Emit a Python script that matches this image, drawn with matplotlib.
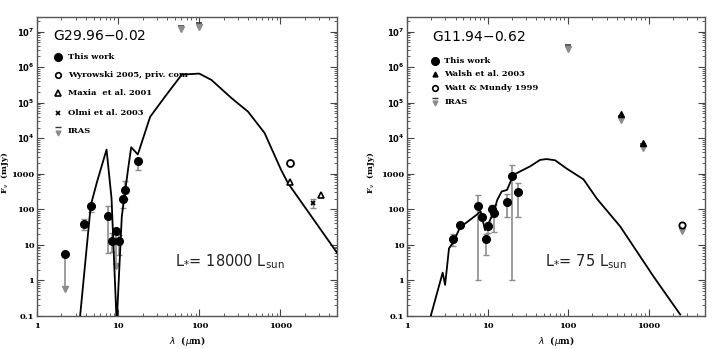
import numpy as np
import matplotlib
matplotlib.use("Agg")
import matplotlib.pyplot as plt
from matplotlib.ticker import FixedLocator, FuncFormatter, LogLocator, NullFormatter

#### data ############################################
# G29.96-0.02 model curve
mod1_lam = [3.4, 4.6, 5.5, 7.2, 8.3, 9.6, 11.1, 13.4, 14.5, 17.5, 24.8, 38, 61, 100,
            141, 250, 400, 640, 1020, 1240, 5000]
mod1_f = [0.1, 130, 600, 4800, 200, 0.06, 63, 1600, 5600, 3500, 4.0e4, 1.5e5, 6.2e5,
          6.6e5, 4.4e5, 1.35e5, 5.6e4, 1.4e4, 1300, 550, 6]

# G29.96-0.02 "this work"
tw1_lam = [2.2, 3.85, 4.6, 7.6, 8.5, 9.5, 10.3, 11.5, 12.0, 17.8]
tw1_f = [5.5, 38, 123, 66, 13, 25, 13, 200, 340, 2350]
tw1_lo = [0.45, 26, 85, 6, 6.5, 2, 5.2, 107, 200, 1300]
tw1_hi = [5.5, 55, 123, 127, 21, 30, 19, 200, 620, 2350]
tw1_uplim = [True, False, False, False, False, True, False, False, False, False]

wyro_lam = [1320]
wyro_f = [2000]
maxia_lam = [1300, 3170]
maxia_f = [570, 260]
olmi_lam = [2520]
olmi_f = [148]
olmi_lo = [107]
olmi_hi = [195]
iras1_lam = [60, 100]
iras1_f = [1.15e7, 1.35e7]

# G11.94-0.62 model curve
mod2_lam = [1.97, 2.77, 2.97, 3.32, 3.76, 4.55, 7.3, 8.2, 9.3, 10.3, 11.8, 13.2, 15,
            17.4, 21, 33.7, 44.8, 54, 69, 96, 155, 227, 443, 1150, 2460]
mod2_f = [0.1, 1.66, 0.75, 8, 12, 31, 70, 88, 26, 41, 78, 186, 320, 350, 940, 1620,
          2460, 2600, 2400, 1400, 700, 200, 33, 1.28, 0.11]

# G11.94-0.62 "this work"
tw2_lam = [3.76, 4.55, 7.7, 8.5, 9.5, 10.1, 11.4, 12.0, 17.6, 20.1, 24]
tw2_f = [15, 37, 128, 60, 14.5, 34, 100, 81, 160, 870, 300]
tw2_lo = [9.3, 33, 1, 55, 5.2, 22, 60, 23, 60, 1, 60]
tw2_hi = [20, 42, 250, 65, 20, 45, 130, 135, 270, 1800, 550]

walsh_lam = [450, 850]
walsh_f = [4.9e4, 7600]
watt_lam = [2600]
watt_f = [37]
iras2_lam = [100, 450, 850, 2600]
iras2_f = [3.2e6, 3.3e4, 5300, 24]

ytick_vals = [0.1, 1, 10, 100, 1000, 1e4, 1e5, 1e6, 1e7]
ytick_text = ["0.1", "1", "10", "100", "1000", r"$\mathbf{10^4}$", r"$\mathbf{10^5}$",
              r"$\mathbf{10^6}$", r"$\mathbf{10^7}$"]
xtick_vals = [1, 10, 100, 1000]
xtick_text = ["1", "10", "100", "1000"]

GREY = "#8c8c8c"
TICKFONT = dict(family="DejaVu Serif", weight="bold", size=6)


def iras_mark(ax, x, y, **kw):
    # grey down-triangle with a dark bar on top (upper limit symbol)
    ax.plot(x, np.asarray(y) * 1.28, ls="none", marker="_", ms=4.5, mew=1.2, color="#333333", **kw)
    ax.plot(x, y, ls="none", marker="v", ms=4, color=GREY, **kw)


def setup_axes(ax, ylab_x):
    ax.set_xscale("log")
    ax.set_yscale("log")
    ax.set_xlim(1, 5000)
    ax.set_ylim(0.1, 2.6e7)
    ax.yaxis.set_major_locator(FixedLocator(ytick_vals))
    ax.yaxis.set_major_formatter(FuncFormatter(lambda v, p: ytick_text[ytick_vals.index(v)] if v in ytick_vals else ""))
    ax.xaxis.set_major_locator(FixedLocator(xtick_vals))
    ax.xaxis.set_major_formatter(FuncFormatter(lambda v, p: xtick_text[xtick_vals.index(v)] if v in xtick_vals else ""))
    ax.xaxis.set_minor_locator(LogLocator(base=10, subs=np.arange(2, 10), numticks=20))
    ax.yaxis.set_minor_locator(LogLocator(base=10, subs=np.arange(2, 10), numticks=20))
    ax.xaxis.set_minor_formatter(NullFormatter())
    ax.yaxis.set_minor_formatter(NullFormatter())
    ax.tick_params(which="both", direction="in", top=True, right=True, color="#444444")
    ax.tick_params(which="major", length=5, width=0.8, pad=4)
    ax.tick_params(axis="y", which="major", pad=2)
    ax.tick_params(which="minor", length=2.5, width=0.6)
    for lab in ax.get_xticklabels() + ax.get_yticklabels():
        lab.set_fontfamily(TICKFONT["family"])
        lab.set_fontweight(TICKFONT["weight"])
        lab.set_fontsize(TICKFONT["size"])
    for sp in ax.spines.values():
        sp.set_linewidth(1.0)
        sp.set_color("#555555")
    ax.set_xlabel(r"$\lambda$  ($\mu$m)", fontsize=6.5, family="DejaVu Serif", weight="bold", labelpad=3)
    ax.set_ylabel(r"F$_\nu$  (mJy)", fontsize=6, family="DejaVu Serif", weight="bold")
    ax.yaxis.set_label_coords(ylab_x, 0.48)


def this_work(ax, lam, f, lo, hi, uplim=None):
    lam = np.asarray(lam)
    f = np.asarray(f)
    lo = np.asarray(lo)
    hi = np.asarray(hi)
    if uplim is None:
        uplim = np.zeros(len(lam), dtype=bool)
    uplim = np.asarray(uplim)
    ok = ~uplim
    ax.errorbar(lam[ok], f[ok], yerr=[f[ok] - lo[ok], hi[ok] - f[ok]], fmt="none",
                ecolor=GREY, elinewidth=1.2, capsize=2.2, capthick=1.0, zorder=2)
    for x, y, l, h in zip(lam[uplim], f[uplim], lo[uplim], hi[uplim]):
        ax.plot([x, x], [l * 1.3, h], color=GREY, lw=1.2, zorder=2)
        ax.plot([x], [l * 1.3], marker="v", ms=4, color=GREY, zorder=2)
    ax.plot(lam, f, ls="none", marker="o", ms=5.5, color="black", zorder=4)


fig = plt.figure(figsize=(7.2, 3.49), dpi=100)
ax1 = fig.add_axes([0.0514, 0.0946, 0.4167, 0.857])
ax2 = fig.add_axes([0.5653, 0.0946, 0.4139, 0.857])

#### left panel: G29.96-0.02 ##########################
ax1.plot(mod1_lam, mod1_f, color="black", lw=1.3, zorder=3)
this_work(ax1, tw1_lam, tw1_f, tw1_lo, tw1_hi, tw1_uplim)
ax1.plot(wyro_lam, wyro_f, ls="none", marker="o", ms=5, mfc="white", mec="black", mew=1.3, zorder=4)
ax1.plot(maxia_lam, maxia_f, ls="none", marker="^", ms=5, mfc="white", mec="black", mew=1.2, zorder=4)
ax1.errorbar(olmi_lam, olmi_f, yerr=[np.subtract(olmi_f, olmi_lo), np.subtract(olmi_hi, olmi_f)],
             fmt="none", ecolor=GREY, elinewidth=1.0, capsize=2.5, zorder=2)
ax1.plot(olmi_lam, olmi_f, ls="none", marker="x", ms=3.5, mew=1.3, color="black", zorder=4)
iras_mark(ax1, iras1_lam, iras1_f, zorder=4)
setup_axes(ax1, -0.088)

tr = ax1.transAxes
ax1.text(0.053, 0.936, "G29.96$-$0.02", transform=tr, fontsize=10, family="DejaVu Sans",
         va="center", ha="left")
rows1 = [0.865, 0.806, 0.745, 0.678, 0.619]
labels1 = ["This work", "Wyrowski 2005, priv. com", "Maxia  et al. 2001", "Olmi et al. 2003", "IRAS"]
ax1.plot([0.069], [rows1[0]], transform=tr, marker="o", ms=5.5, color="black")
ax1.plot([0.069], [rows1[1]], transform=tr, marker="o", ms=4, mfc="white", mec="black", mew=1.2)
ax1.plot([0.069], [rows1[2]], transform=tr, marker="^", ms=4, mfc="white", mec="black", mew=1.2)
ax1.plot([0.069], [rows1[3]], transform=tr, marker="x", ms=3, mew=1.2, color="black")
ax1.plot([0.069], [rows1[4] + 0.012], transform=tr, marker="_", ms=4, mew=1.0, color="#333333")
ax1.plot([0.069], [rows1[4] - 0.006], transform=tr, marker="v", ms=3.5, color=GREY)
for yy, lab in zip(rows1, labels1):
    ax1.text(0.103, yy, lab, transform=tr, fontsize=6, family="DejaVu Serif", weight="bold",
             va="center", ha="left")
ax1.text(0.46, 0.182, r"L$_{*}$= 18000 L$_{\rm sun}$", transform=tr, fontsize=10.5,
         family="DejaVu Sans", va="center", ha="left", color="#222222")

#### right panel: G11.94-0.62 #########################
ax2.plot(mod2_lam, mod2_f, color="black", lw=1.3, zorder=3)
this_work(ax2, tw2_lam, tw2_f, tw2_lo, tw2_hi)
ax2.plot(walsh_lam, walsh_f, ls="none", marker="^", ms=4.5, color="black", zorder=4)
ax2.plot(watt_lam, watt_f, ls="none", marker="o", ms=4.5, mfc="white", mec="black", mew=1.3, zorder=4)
iras_mark(ax2, iras2_lam, iras2_f, zorder=3)
setup_axes(ax2, -0.1)

tr = ax2.transAxes
ax2.text(0.083, 0.934, "G11.94$-$0.62", transform=tr, fontsize=10, family="DejaVu Sans",
         va="center", ha="left")
rows2 = [0.854, 0.809, 0.762, 0.717]
labels2 = ["This work", "Walsh et al. 2003", "Watt & Mundy 1999", "IRAS"]
ax2.plot([0.094], [rows2[0]], transform=tr, marker="o", ms=5.5, color="black")
ax2.plot([0.094], [rows2[1]], transform=tr, marker="^", ms=3.5, color="black")
ax2.plot([0.094], [rows2[2]], transform=tr, marker="o", ms=4, mfc="white", mec="black", mew=1.2)
ax2.plot([0.094], [rows2[3] + 0.012], transform=tr, marker="_", ms=4, mew=1.0, color="#333333")
ax2.plot([0.094], [rows2[3] - 0.006], transform=tr, marker="v", ms=3.5, color=GREY)
for yy, lab in zip(rows2, labels2):
    ax2.text(0.125, yy, lab, transform=tr, fontsize=6, family="DejaVu Serif", weight="bold",
             va="center", ha="left")
ax2.text(0.463, 0.182, r"L$_{*}$= 75 L$_{\rm sun}$", transform=tr, fontsize=10.5,
         family="DejaVu Sans", va="center", ha="left", color="#222222")

fig.savefig("out.png", dpi=100)
